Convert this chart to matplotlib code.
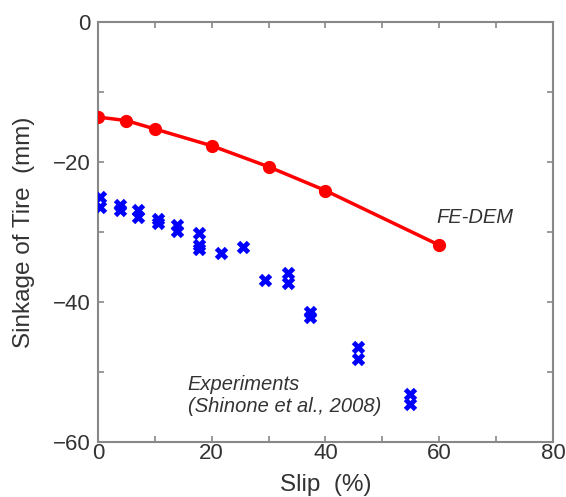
import matplotlib
matplotlib.use('Agg')
import matplotlib.pyplot as plt
from matplotlib.ticker import MultipleLocator

plt.rcParams['font.family'] = ['Liberation Sans', 'DejaVu Sans']

# FE-DEM simulation
sim_slip = [0, 5, 10, 20, 30, 40, 60]
sim_sink = [-13.6, -14.1, -15.3, -17.7, -20.7, -24.1, -31.9]

# Experiments (Shinone et al., 2008)
exp_slip = [0.35, 0.35, 3.9, 3.9, 7.0, 7.0, 10.5, 10.5, 13.9, 13.9,
            17.75, 17.75, 17.75, 21.6, 25.5, 29.3, 33.4, 33.4,
            37.3, 37.3, 45.7, 45.7, 54.8, 54.8]
exp_sink = [-25.0, -26.4, -26.1, -26.9, -26.9, -27.9, -28.1, -28.7, -29.0, -29.9,
            -30.1, -31.9, -32.4, -33.0, -32.1, -36.9, -35.9, -37.3,
            -41.4, -42.2, -46.5, -48.1, -53.2, -54.6]

fig = plt.figure(figsize=(5.66, 4.97), dpi=100)
ax = fig.add_axes([0.173, 0.111, 0.804, 0.845])

ax.plot(sim_slip, sim_sink, color='#ff0000', lw=2.5, marker='o', ms=8.5, zorder=3)
ax.plot(exp_slip, exp_sink, ls='none', color='#0000ff', marker='x', ms=7, mew=3.5, zorder=3)

ax.text(66.3, -27.9, 'FE-DEM', style='italic', fontsize=14.5, color='#333333',
        ha='center', va='center')
ax.text(15.8, -53.4, 'Experiments\n(Shinone et al., 2008)', style='italic', fontsize=14.5,
        color='#333333', ha='left', va='center', linespacing=1.2)

ax.set_xlim(0, 80)
ax.set_ylim(-60, 0)
ax.xaxis.set_major_locator(MultipleLocator(20))
ax.xaxis.set_minor_locator(MultipleLocator(10))
ax.yaxis.set_major_locator(MultipleLocator(20))
ax.yaxis.set_minor_locator(MultipleLocator(10))

for s in ax.spines.values():
    s.set_color('#888888')
    s.set_linewidth(1.5)
ax.tick_params(which='both', direction='in', top=True, right=True,
               color='#888888', width=1.2, length=4, labelsize=16,
               labelcolor='#333333')
ax.tick_params(axis='x', pad=1)
ax.tick_params(axis='y', pad=5)

ax.set_xlabel('Slip  (%)', fontsize=17.5, color='#333333', labelpad=7)
ax.set_ylabel('Sinkage of Tire  (mm)', fontsize=17.5, color='#333333', labelpad=13)

fig.savefig('out.png', dpi=100)
